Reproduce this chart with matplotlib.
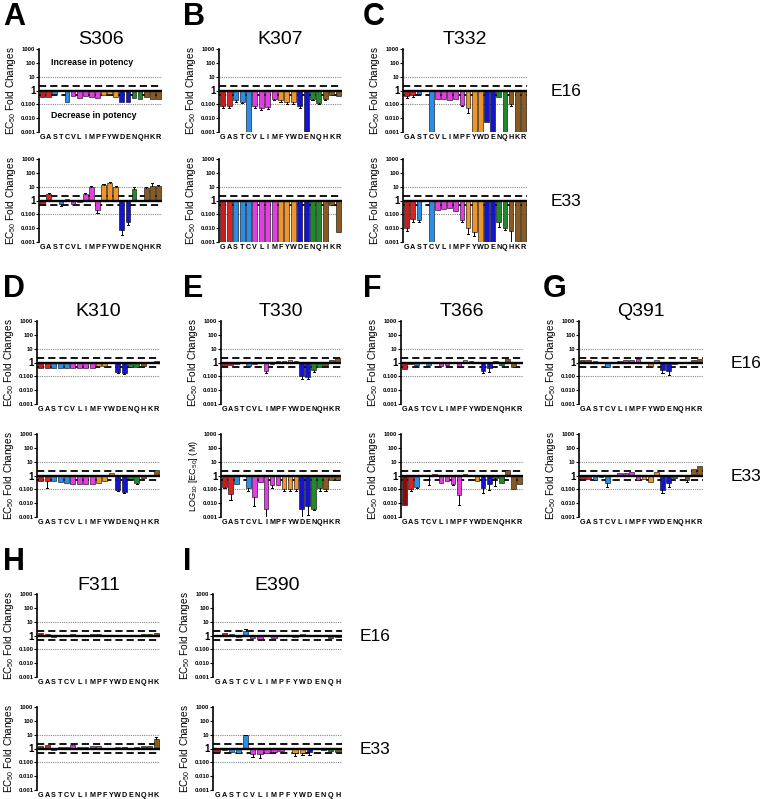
import numpy as np
import matplotlib
matplotlib.use("Agg")
import matplotlib.pyplot as plt

plt.rcParams['font.family'] = ['Liberation Sans', 'DejaVu Sans']
plt.rcParams['mathtext.fontset'] = 'custom'
plt.rcParams['mathtext.rm'] = 'Liberation Sans'
plt.rcParams['mathtext.it'] = 'Liberation Sans:italic'
plt.rcParams['mathtext.bf'] = 'Liberation Sans:bold'

N = None
# ---------------- data ----------------
S306_res = list("GASTCVLIMPFYWDENQHKR")
S306_E16 = [0.33, 0.33, 0.6, 0.85, 0.16, 0.4, 0.3, 0.4, 0.35, 0.28, 0.5, 0.55, 0.33, 0.16, 0.15, 0.28, 0.25, 0.35, 0.25, 0.25]
S306_E33 = [0.6, 3.0, N, 0.6, 1.3, 0.6, 0.8, 3.0, 10, 0.19, 13, 18, 10, 0.008, 0.03, 7, 1.1, 8, 12, 11]
S306_E16_err = {}
S306_E33_err = {"G": 0.45, "A": 3.6, "T": 0.4, "I": 3.6, "M": 11, "P": 0.13, "F": 15, "Y": 21, "W": 11,
                "D": 0.003, "E": 0.018, "N": 9, "H": 10, "K": 17, "R": 13}

K307_res = list("GASTCVLIMFYWDENQHKR")
K307_E16 = [0.07, 0.07, 0.2, 0.16, 0.001, 0.07, 0.055, 0.06, 0.25, 0.2, 0.15, 0.15, 0.07, 0.001, 0.25, 0.12, 0.25, 0.5, 0.37]
K307_E33 = [0.001] * 17 + [0.5, 0.0054]
K307_E16_err = {"G": 0.055, "A": 0.05, "S": 0.16, "T": 0.13, "V": 0.055, "L": 0.04, "I": 0.045, "M": 0.2,
                "F": 0.16, "Y": 0.1, "W": 0.1, "D": 0.05, "N": 0.2, "Q": 0.1, "H": 0.2}
K307_E33_err = {}

T332_res = list("GASTCVLIMPFYWDENQHKR")
T332_E16 = [0.37, 0.45, 0.55, N, 0.001, 0.25, 0.25, 0.22, 0.25, 0.09, 0.05, 0.001, 0.001, 0.005, 0.001, 0.35, 0.001, 0.1, 0.001, 0.001]
T332_E33 = [0.0095, 0.047, 0.04, N, 0.001, 0.22, 0.25, 0.3, 0.17, 0.04, 0.01, 0.005, 0.001, 0.001, 0.001, 0.03, 0.01, 0.006, 0.001, 0.001]
T332_E16_err = {"G": 0.27, "A": 0.35, "P": 0.07, "F": 0.025, "H": 0.08}
T332_E33_err = {"G": 0.006, "A": 0.03, "S": 0.03, "P": 0.03, "F": 0.004, "Y": 0.0025, "N": 0.013, "Q": 0.008, "H": 0.001}

K310_res = list("GASTCVLIMFYWDENQHKR")
K310_E16 = [0.43, 0.43, 0.43, 0.43, 0.43, 0.4, 0.4, 0.4, 0.4, 0.6, 0.6, 0.9, 0.22, 0.17, 0.45, 0.45, 0.6, N, 1.3]
K310_E33 = [0.37, 0.37, 0.37, 0.35, 0.3, 0.25, 0.25, 0.25, 0.25, 0.3, 0.37, 1.4, 0.09, 0.06, 0.6, 0.3, 0.7, N, 2.5]
K310_E16_err = {"D": 0.18, "E": 0.14}
K310_E33_err = {"A": 0.12, "D": 0.07, "E": 0.05, "Q": 0.25}

T330_res = list("GASTCVLIMPFYWDENQHKR")
T330_E16 = [0.6, 0.7, 0.8, N, 0.6, 0.75, 1.1, 0.25, 0.8, 1.3, 1.3, 1.5, 1.2, 0.1, 0.09, 0.3, 0.5, 0.7, 1.5, 2.0]
T330_E33 = [0.16, 0.045, 0.25, N, 0.12, 0.03, 0.33, 0.0035, 0.19, 0.19, 0.11, 0.11, 0.11, 0.0035, 0.006, 0.004, 0.12, 0.11, 0.5, 0.5]
T330_E16_err = {"I": 0.17, "D": 0.06, "E": 0.06, "N": 0.2}
T330_E33_err = {"G": 0.12, "A": 0.017, "C": 0.08, "V": 0.006, "I": 0.001, "M": 0.13, "F": 0.08, "Y": 0.08,
                "W": 0.08, "D": 0.001, "E": 0.0015, "N": 0.003, "Q": 0.08, "H": 0.07}

T366_res = list("GASTCVLIMPFYWDENQHKR")
T366_E16 = [0.33, 0.75, 0.7, N, 0.7, N, 0.6, 0.65, N, 0.6, 1.5, 1.2, N, 0.25, 0.4, 1.2, 0.7, 1.8, 0.5, 1.1]
T366_E33 = [0.0075, 0.1, 0.14, N, 0.9, 1.2, 0.3, 0.4, 0.25, 0.04, 1.2, 0.9, 0.4, 0.12, 0.25, 0.7, 0.28, 2.3, 0.1, 0.25]
T366_E16_err = {"D": 0.17, "E": 0.2}
T366_E33_err = {"A": 0.08, "S": 0.12, "C": 0.2, "M": 0.2, "P": 0.007, "D": 0.05, "E": 0.09, "N": 0.18}

Q391_res = list("GASTCVLIMPFYWDENQHKR")
Q391_E16 = [1.5, 1.5, 1.3, 1.1, 0.5, N, 1.2, 1.5, 1.5, 1.7, N, 0.6, 1.4, 0.3, 0.25, 0.8, N, N, 1.5, 1.7]
Q391_E33 = [0.6, 0.55, 0.5, 0.8, 0.3, N, 1.5, 1.6, 1.7, 0.5, 0.55, 0.33, 1.9, 0.09, 0.3, 0.7, N, 0.5, 3.0, 5.0]
Q391_E16_err = {"D": 0.18, "E": 0.13}
Q391_E33_err = {"C": 0.15, "D": 0.05, "E": 0.15, "H": 0.35}

F311_res = list("GASTCVLIMPFYWDENQHK")
F311_E16 = [1.5, 1.2, 0.8, 1.0, 1.0, 1.2, 0.9, 1.0, 1.2, 1.3, N, 1.0, 1.0, 1.1, 1.0, 1.1, 1.3, 1.3, 1.6]
F311_E33 = [1.5, 1.7, 0.8, 1.3, 1.2, 1.7, 1.2, 1.3, 1.4, 1.6, N, 1.1, 1.2, 1.2, 0.9, 1.3, 1.5, 1.5, 4.5]
F311_E16_err = {}
F311_E33_err = {"K": 7}

E390_res = list("GASTCVLIMPFYWDENQH")
E390_E16 = [1.1, 1.4, 1.2, 0.8, 2.2, 0.7, 0.6, 1.0, 0.7, 1.0, 0.9, 0.8, 1.3, 1.1, N, 0.9, 0.7, 0.8]
E390_E33 = [0.6, 0.75, 0.6, 0.5, 9.0, 0.4, 0.4, 0.5, 0.6, 0.7, 0.9, 0.45, 0.45, 0.6, N, 0.8, 0.65, 0.6]
E390_E16_err = {"C": 2.8}
E390_E33_err = {"C": 10, "V": 0.25, "L": 0.2, "Y": 0.3, "W": 0.35, "D": 0.35}

# ---------------- style ----------------
COL = {}
for r in "GA": COL[r] = '#dd2222'
COL["G"] = '#c81c1c'
for r in "STC": COL[r] = '#2b8de6'
for r in "VLIMP": COL[r] = '#e63ce6'
for r in "FYW": COL[r] = '#f0952a'
for r in "DE": COL[r] = '#1414cc'
for r in "NQ": COL[r] = '#1f8a2a'
for r in "HKR": COL[r] = '#8a5a20'

W, H = 760, 799
fig = plt.figure(figsize=(W / 100, H / 100), dpi=100)

YL = "EC$_{50}$ Fold Changes"
panels = [
    # letter, title, res, e16, e33, e16err, e33err, left, right, top1, top2, side label x, ylabel2
    ("A", "S306", S306_res, S306_E16, S306_E33, S306_E16_err, S306_E33_err, 39, 162, 49, 159, None, YL),
    ("B", "K307", K307_res, K307_E16, K307_E33, K307_E16_err, K307_E33_err, 219, 342, 49, 159, None, YL),
    ("C", "T332", T332_res, T332_E16, T332_E33, T332_E16_err, T332_E33_err, 403, 527, 49, 159, 566, YL),
    ("D", "K310", K310_res, K310_E16, K310_E33, K310_E16_err, K310_E33_err, 37, 160, 321, 434, None, YL),
    ("E", "T330", T330_res, T330_E16, T330_E33, T330_E16_err, T330_E33_err, 221, 341, 321, 434, None,
     "LOG$_{10}$ [EC$_{50}$] (M)"),
    ("F", "T366", T366_res, T366_E16, T366_E33, T366_E16_err, T366_E33_err, 401, 523, 321, 434, None, YL),
    ("G", "Q391", Q391_res, Q391_E16, Q391_E33, Q391_E16_err, Q391_E33_err, 579, 703, 321, 434, 746, YL),
    ("H", "F311", F311_res, F311_E16, F311_E33, F311_E16_err, F311_E33_err, 37, 160, 594, 707, None, YL),
    ("I", "E390", E390_res, E390_E16, E390_E33, E390_E16_err, E390_E33_err, 213, 342, 594, 707, 375, YL),
]
AXH = 83
YT = [0.001, 0.01, 0.1, 1, 10, 100, 1000]
YTL = ["0.001", "0.010", "0.100", "1", "10", "100", "1000"]


def draw(ax, res, vals, errs, ylabel, left, top, override=None):
    n = len(res)
    ax.set_yscale('log')
    ax.set_ylim(0.001, 1000)
    ax.set_xlim(-0.6, n - 0.4)
    ax.axhline(10, color='#888888', ls=(0, (1, 1)), lw=0.8, zorder=1)
    ax.axhline(0.1, color='#888888', ls=(0, (1, 1)), lw=0.8, zorder=1)
    ax.axhline(2, color='black', ls=(0, (4, 2.2)), lw=1.3, zorder=1)
    ax.axhline(0.5, color='black', ls=(0, (4, 2.2)), lw=1.3, zorder=1)
    for i, (r, v) in enumerate(zip(res, vals)):
        if v is None:
            continue
        c = COL[r]
        if override and r in override:
            c = override[r]
        vv = max(v, 0.0009)
        ax.bar(i, vv - 1, bottom=1, width=0.78, color=c, edgecolor='black', lw=0.4, zorder=2)
        if r in errs:
            e = errs[r]
            ax.plot([i, i], [v, e], color='black', lw=0.7, zorder=2.5)
            ax.plot([i - 0.18, i + 0.18], [e, e], color='black', lw=0.7, zorder=2.5)
    ax.axhline(1, color='black', lw=1.7, zorder=3)
    for s in ['top', 'right', 'bottom']:
        ax.spines[s].set_visible(False)
    ax.spines['left'].set_linewidth(1.2)
    ax.set_yticks(YT)
    ax.set_yticklabels(YTL)
    ax.yaxis.set_minor_locator(matplotlib.ticker.NullLocator())
    ax.tick_params(axis='y', length=2, width=0.8, pad=0.6, labelsize=4.2)
    for lab in ax.get_yticklabels():
        lab.set_fontweight('bold')
        if lab.get_text() == "1":
            lab.set_fontsize(7)
    ax.set_xticks(np.arange(n))
    ax.set_xticklabels(res, fontsize=5.2, fontweight='bold')
    ax.tick_params(axis='x', length=0, pad=1.5)
    fs = 6.6 if ylabel.startswith("LOG") else 7.2
    fig.text(max(left - 28, 8.5) / W, 1 - (top + AXH / 2) / H, ylabel, rotation=90, ha='center', va='center',
             fontsize=fs)


for (let, title, res, e16, e33, er16, er33, left, right, t1, t2, sidex, yl2) in panels:
    for k, (t, vals, errs, yl) in enumerate([(t1, e16, er16, YL), (t2, e33, er33, yl2)]):
        ax = fig.add_axes([left / W, 1 - (t + AXH) / H, (right - left) / W, AXH / H])
        override = {"G": '#8b0c0c'} if (title == "T366" and k == 1) else None
        draw(ax, res, vals, errs, yl, left, t, override)
        if title == "S306" and k == 0:
            ax.text(0.1, 105, "Increase in potency", fontsize=6.3, fontweight='bold', va='center',
                    transform=ax.get_yaxis_transform())
            ax.text(0.1, 0.016, "Decrease in potency", fontsize=6.3, fontweight='bold', va='center',
                    transform=ax.get_yaxis_transform())
        if sidex is not None:
            fig.text(sidex / W, 1 - (t + AXH / 2 + 1) / H, ["E16", "E33"][k], ha='center', va='center',
                     fontsize=12.5)
    fig.text((left + right) / 2 / W, 1 - (t1 - 9) / H, title, ha='center', va='center', fontsize=14)
    lx = {39: 3, 37: 3, 219: 183, 221: 183, 213: 183, 403: 363, 401: 363, 579: 543}[left]
    fig.text(lx / W, 1 - (t1 - 24) / H, let, ha='left', va='baseline', fontsize=22, fontweight='bold')

fig.savefig("out.png", dpi=100)
